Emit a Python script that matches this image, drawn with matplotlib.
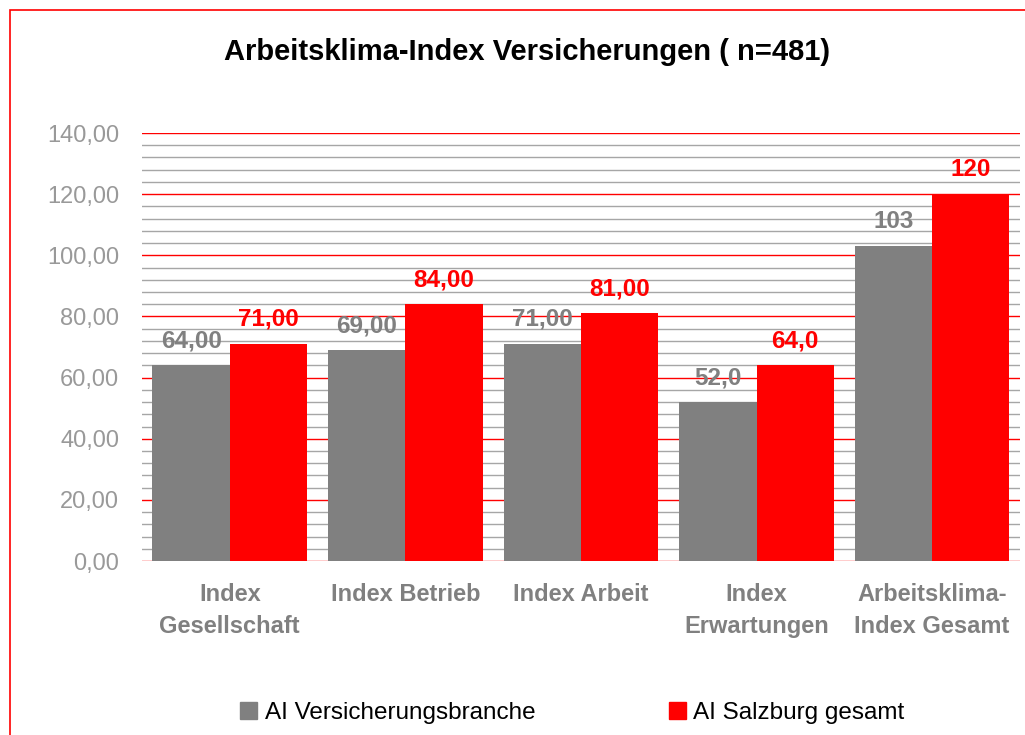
import numpy as np
import matplotlib.pyplot as plt
from matplotlib.ticker import MultipleLocator, FuncFormatter
from matplotlib.patches import Rectangle

plt.rcParams['font.family'] = ['Liberation Sans', 'DejaVu Sans']

kategorien = ["Index\nGesellschaft", "Index Betrieb", "Index Arbeit", "Index\nErwartungen", "Arbeitsklima-\nIndex Gesamt"]
versicherung = [64, 69, 71, 52, 103]
salzburg = [71, 84, 81, 64, 120]
labels_versicherung = ["64,00", "69,00", "71,00", "52,0", "103"]
labels_salzburg = ["71,00", "84,00", "81,00", "64,0", "120"]

grau = "#808080"
rot = "#ff0000"

fig = plt.figure(figsize=(10.25, 7.35), dpi=100)
ax = fig.add_axes([0.1385, 0.2367, 0.8565, 0.5823])

x = np.arange(len(kategorien))
b = 0.44
bars1 = ax.bar(x - b/2, versicherung, b, color=grau, zorder=3)
bars2 = ax.bar(x + b/2, salzburg, b, color=rot, zorder=3)

for rect, txt in zip(bars1, labels_versicherung):
    ax.annotate(txt, (rect.get_x() + rect.get_width()/2, rect.get_height()),
                xytext=(0, 13), textcoords="offset points", ha="center", va="baseline",
                fontsize=17.5, fontweight="bold", color=grau)
for rect, txt in zip(bars2, labels_salzburg):
    ax.annotate(txt, (rect.get_x() + rect.get_width()/2, rect.get_height()),
                xytext=(0, 13), textcoords="offset points", ha="center", va="baseline",
                fontsize=17.5, fontweight="bold", color=rot)

ax.set_xlim(-0.5, len(kategorien) - 0.5)
ax.set_ylim(0, 140)
ax.yaxis.set_major_locator(MultipleLocator(20))
ax.yaxis.set_minor_locator(MultipleLocator(4))
ax.yaxis.set_major_formatter(FuncFormatter(lambda v, p: f"{v:.2f}".replace(".", ",")))
ax.grid(which="major", axis="y", color=rot, lw=1.0, zorder=1)
ax.grid(which="minor", axis="y", color="#a6a6a6", lw=1.0, zorder=1)
ax.set_axisbelow(True)
for s in ax.spines.values():
    s.set_visible(False)
ax.tick_params(axis="y", which="both", length=0, pad=16.5, labelsize=17, labelcolor="#999999")
ax.tick_params(axis="x", length=0, pad=16)
ax.set_xticks(x)
ax.set_xticklabels(kategorien, fontsize=17, fontweight="bold", color=grau, linespacing=1.5, va="top")

fig.text(0.514, 1 - 52/735, "Arbeitsklima-Index Versicherungen ( n=481)",
         ha="center", va="center", fontsize=21, fontweight="bold")

handles = [Rectangle((0, 0), 1, 1, color=grau), Rectangle((0, 0), 1, 1, color=rot)]
fig.legend(handles, ["AI Versicherungsbranche", "AI Salzburg gesamt"], loc="center",
           bbox_to_anchor=(0.5585, 1 - 713/735), ncol=2, frameon=False, fontsize=17.5,
           handlelength=0.7, handleheight=0.7, handletextpad=0.3, columnspacing=5.5)

fig.patches.append(Rectangle((9.5/1025, -0.05), 1.1, 1 - 10/735 + 0.05, transform=fig.transFigure,
                             fill=False, edgecolor=rot, lw=1.2))

plt.savefig("out.png", dpi=100)
